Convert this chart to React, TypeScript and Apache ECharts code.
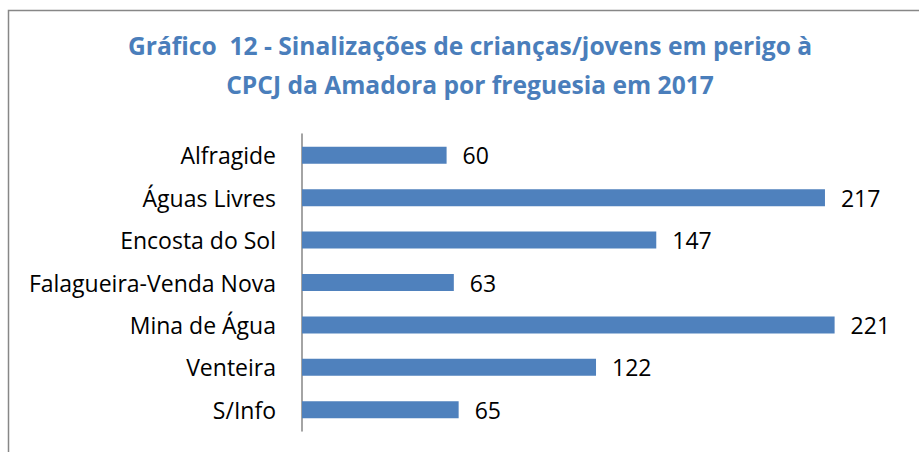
import React, { useEffect, useRef } from "react";
import * as echarts from "echarts";

const categories = [
  "Alfragide",
  "Águas Livres",
  "Encosta do Sol",
  "Falagueira-Venda Nova",
  "Mina de Água",
  "Venteira",
  "S/Info",
];
const values = [60, 217, 147, 63, 221, 122, 65];
const titleLines = [
  "Gráfico  12 - Sinalizações de crianças/jovens em perigo à",
  "CPCJ da Amadora por freguesia em 2017",
];

export default function App() {
  const ref = useRef<HTMLDivElement>(null);
  useEffect(() => {
    if (!ref.current) return;
    const chart = echarts.init(ref.current, null, { renderer: "svg" });
    const font = "'Open Sans', sans-serif";
    chart.setOption({
      animation: false,
      backgroundColor: "#ffffff",
      title: {
        text: titleLines.join("\n"),
        left: 465,
        top: 21,
        textAlign: "center",
        textStyle: {
          fontFamily: font,
          fontSize: 24.6,
          fontWeight: "bold",
          color: "#4A7EBB",
          lineHeight: 39,
        },
      },
      graphic: [
        {
          type: "polyline",
          shape: { points: [[8.5, 460], [8.5, 10.5], [930, 10.5]] },
          style: { stroke: "#878787", lineWidth: 1.5, fill: "none" },
          silent: true,
        },
      ],
      grid: { left: 302, top: 134, width: 602.5, height: 297 },
      xAxis: {
        type: "value",
        min: 0,
        max: 250,
        show: false,
      },
      yAxis: {
        type: "category",
        data: categories,
        inverse: true,
        axisLine: { show: true, lineStyle: { color: "#868686", width: 1.5 } },
        axisTick: { show: false },
        axisLabel: {
          margin: 26,
          fontFamily: font,
          fontSize: 23,
          color: "#000000",
        },
      },
      series: [
        {
          type: "bar",
          data: values,
          barWidth: 17,
          itemStyle: { color: "#4F81BD" },
          label: {
            show: true,
            position: "right",
            distance: 16,
            fontFamily: font,
            fontSize: 23,
            color: "#000000",
          },
        },
      ],
    });
    return () => chart.dispose();
  }, []);
  return (
    <div
      ref={ref}
      style={{ position: "absolute", left: 0, top: 0, width: 919, height: 452 }}
    />
  );
}
